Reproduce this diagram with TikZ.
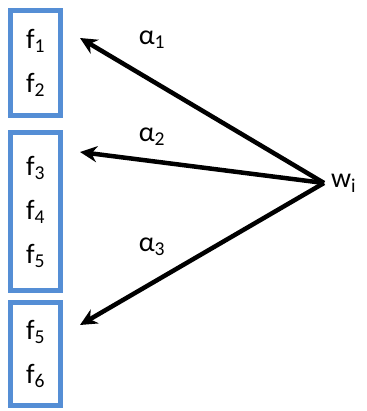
\documentclass[tikz,border=0pt]{standalone}
\usepackage{fontspec}
\setmainfont{Carlito}
\usetikzlibrary{arrows.meta}
\definecolor{boxblue}{RGB}{85,142,213}
\begin{document}
\begin{tikzpicture}[
    x=1pt, y=-1pt,
    font=\fontsize{28}{44}\selectfont,
    featbox/.style={draw=boxblue, line width=5pt, minimum width=50pt, align=center, inner sep=0pt},
    weight/.style={-{Stealth[length=17pt,width=16pt]}, line width=4.5pt}
]
    \useasboundingbox (0,0) rectangle (366,411);
    % Feature groups
    \node[featbox, minimum height=105pt] (g1) at (35.5,63) {f\textsubscript{1}\\f\textsubscript{2}};
    \node[featbox, minimum height=158pt] (g2) at (35.5,211.5) {f\textsubscript{3}\\f\textsubscript{4}\\f\textsubscript{5}};
    \node[featbox, minimum height=103pt] (g3) at (35.5,354) {f\textsubscript{5}\\f\textsubscript{6}};
    
    % Word node and arrow tips
    \node[anchor=west, inner sep=0pt] (w) at (324,183) {\hspace{7pt}w\textsubscript{i}};
    \coordinate (t1) at (80,38);
    \coordinate (t2) at (80,152);
    \coordinate (t3) at (80,325);
    
    % Weights
    \draw[weight] (w.west) -- (t1);
    \draw[weight] (w.west) -- (t2);
    \draw[weight] (w.west) -- (t3);
    \node (a1) at (152,40) {α\textsubscript{1}};
    \node (a2) at (152,137) {α\textsubscript{2}};
    \node (a3) at (152,247) {α\textsubscript{3}};
\end{tikzpicture}
\end{document}
